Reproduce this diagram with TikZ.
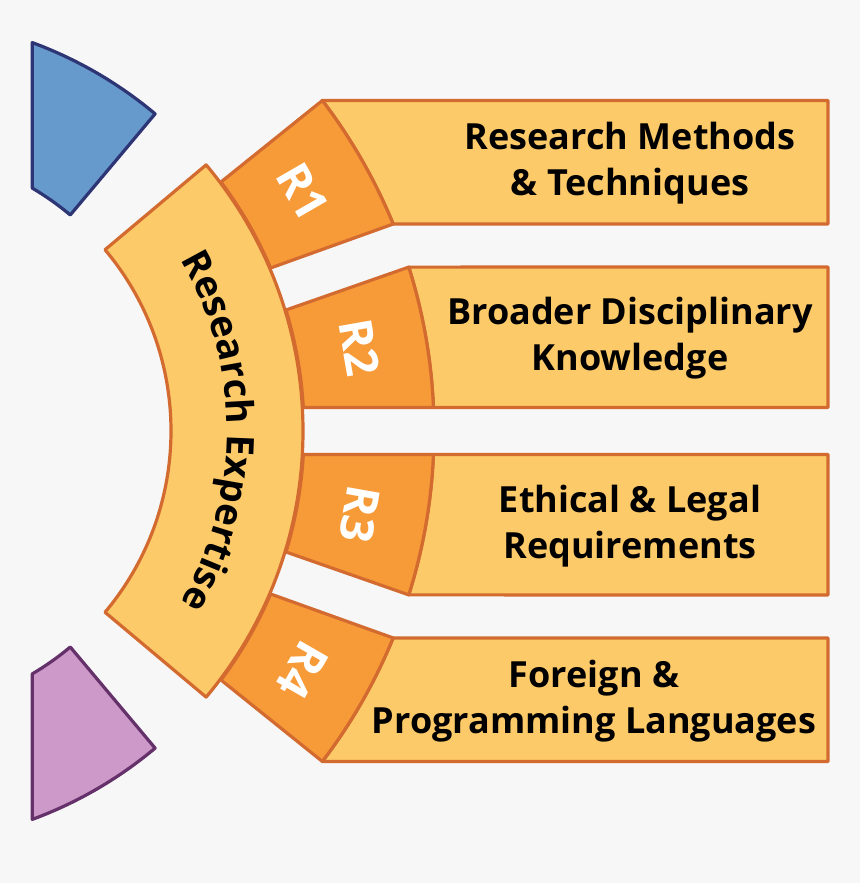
\documentclass[tikz,border=0pt]{standalone}
\usepackage{fontspec}
\setmainfont{Open Sans}
\usetikzlibrary{decorations.text}
\definecolor{bg}{HTML}{F7F7F7}
\definecolor{lightor}{HTML}{FDCA69}
\definecolor{darkor}{HTML}{F79A38}
\definecolor{edgeor}{HTML}{D36B30}
\definecolor{bluef}{HTML}{6699CC}
\definecolor{bluee}{HTML}{2E3575}
\definecolor{purf}{HTML}{CC99C8}
\definecolor{pure}{HTML}{65316A}
\tikzset{
  bandshape/.style={fill=lightor, draw=edgeor, line width=1.6pt, line join=round},
  rshape/.style={fill=darkor, draw=edgeor, line width=1.6pt, line join=round},
  boxshape/.style={fill=lightor, draw=edgeor, line width=1.6pt, line join=round},
  blueshape/.style={fill=bluef, draw=bluee, line width=1.6pt, line join=round},
  purshape/.style={fill=purf, draw=pure, line width=1.6pt, line join=round},
  rlabel/.style={text=white, font=\bfseries\fontsize{23}{27}\selectfont, inner sep=0pt},
  boxtext/.style={text=black, font=\bfseries\fontsize{18}{23}\selectfont, align=center, inner sep=0pt}
}
\begin{document}
\begin{tikzpicture}[x=0.5pt,y=0.5pt]
\fill[bg] (0,0) rectangle (860,883);
\useasboundingbox (0,0) rectangle (860,883);
\coordinate (C) at (-111,452);
% blue and purple segments
\draw[blueshape] ([shift={(C)}]50:282) -- ([shift={(C)}]50:414) arc[start angle=50,end angle=69.75,radius=414] -- ([shift={(C)}]59.46:282) arc[start angle=59.46,end angle=50,radius=282] -- cycle;
\draw[purshape] ([shift={(C)}]-50:282) -- ([shift={(C)}]-50:414) arc[start angle=-50,end angle=-69.75,radius=414] -- ([shift={(C)}]-59.46:282) arc[start angle=-59.46,end angle=-50,radius=282] -- cycle;
% rectangles
\draw[boxshape] ([shift={(C)}]37.33:545) -- (828,782.5) -- (828,659) -- ([shift={(C)}]22.32:545) arc[start angle=22.32,end angle=37.33,radius=545] -- cycle;
\draw[boxshape] ([shift={(C)}]17.5:545) -- (828,616) -- (828,475.5) -- ([shift={(C)}]2.47:545) arc[start angle=2.47,end angle=17.5,radius=545] -- cycle;
\draw[boxshape] ([shift={(C)}]-2.47:545) -- (828,428.5) -- (828,288) -- ([shift={(C)}]-17.5:545) arc[start angle=-17.5,end angle=-2.47,radius=545] -- cycle;
\draw[boxshape] ([shift={(C)}]-22.32:545) -- (828,245) -- (828,121.5) -- ([shift={(C)}]-37.33:545) arc[start angle=-37.33,end angle=-22.32,radius=545] -- cycle;
% R sectors
\draw[rshape] ([shift={(C)}]36.87:415) -- ([shift={(C)}]37.33:545) arc[start angle=37.33,end angle=22.32,radius=545] -- ([shift={(C)}]23.13:415) arc[start angle=23.13,end angle=36.87,radius=415] -- cycle;
\draw[rshape] ([shift={(C)}]16.95:415) -- ([shift={(C)}]17.5:545) arc[start angle=17.5,end angle=2.47,radius=545] -- ([shift={(C)}]3.25:415) arc[start angle=3.25,end angle=16.95,radius=415] -- cycle;
\draw[rshape] ([shift={(C)}]-3.25:415) -- ([shift={(C)}]-2.47:545) arc[start angle=-2.47,end angle=-17.5,radius=545] -- ([shift={(C)}]-16.95:415) arc[start angle=-16.95,end angle=-3.25,radius=415] -- cycle;
\draw[rshape] ([shift={(C)}]-23.13:415) -- ([shift={(C)}]-22.32:545) arc[start angle=-22.32,end angle=-37.33,radius=545] -- ([shift={(C)}]-36.87:415) arc[start angle=-36.87,end angle=-23.13,radius=415] -- cycle;
% central band
\draw[bandshape] ([shift={(C)}]40:282) -- ([shift={(C)}]40:414) arc[start angle=40,end angle=-40,radius=414] -- ([shift={(C)}]-40:282) arc[start angle=-40,end angle=40,radius=282] -- cycle;
% curved text
\path[decorate, decoration={text along path, text align=center,
  text={|\bfseries\fontsize{19}{23}\selectfont|Research Expertise}}]
  ([shift={(C)}]40:338) arc[start angle=40,end angle=-40,radius=338];
% R labels
\node[rlabel, rotate=-60] (r1) at ([shift={(C)}]30:478) {R1};
\node[rlabel, rotate=-80] (r2) at ([shift={(C)}]10:478) {R2};
\node[rlabel, rotate=-100] (r3) at ([shift={(C)}]-10:478) {R3};
\node[rlabel, rotate=-120] (r4) at ([shift={(C)}]-30:478) {R4};
% box texts
\node[boxtext] (t1) at (630,719.5) {Research Methods\\\& Techniques};
\node[boxtext] (t2) at (630,544.5) {Broader Disciplinary\\Knowledge};
\node[boxtext] (t3) at (630,357) {Ethical \& Legal\\Requirements};
\node[boxtext] (t4) at (594,182) {Foreign \&\\Programming Languages};
\end{tikzpicture}
\end{document}
